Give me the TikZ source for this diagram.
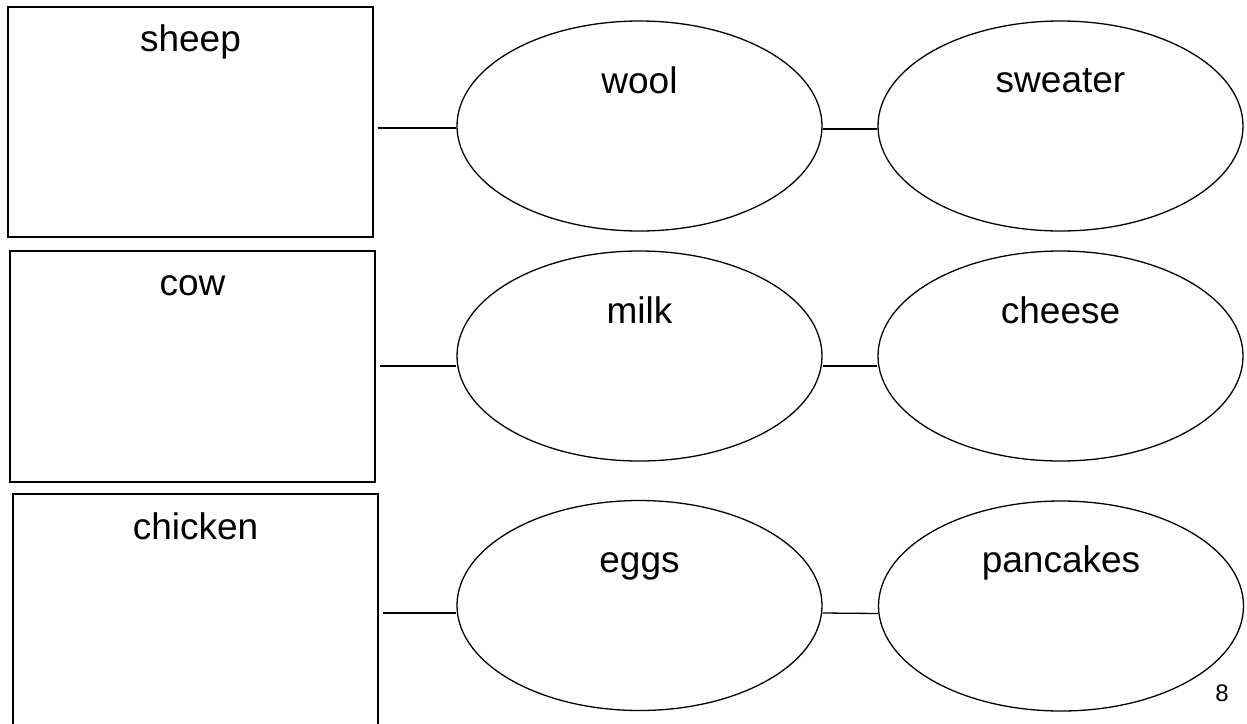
\documentclass[tikz,border=0pt]{standalone}
\usepackage{fontspec}
\setmainfont{Liberation Sans}
\usetikzlibrary{shapes.geometric}

\begin{document}
\begin{tikzpicture}[x=1pt,y=-1pt,
    animal/.style={draw,line width=1.8pt,minimum width=365pt,inner sep=0pt},
    product/.style={draw,ellipse,line width=1.3pt,minimum width=365pt,minimum height=210pt,inner sep=0pt},
    link/.style={line width=1.3pt},
    word/.style={anchor=base,inner sep=0pt,font=\fontsize{37}{44}\selectfont}]
                \useasboundingbox (0,0) rectangle (1247,723);
                \node[animal,minimum height=230pt] (sheep) at (190.5,122) {};
                \node[animal,minimum height=231pt] (cow) at (192.5,366.5) {};
                \node[animal,minimum height=256pt] (chicken) at (195.5,622) {};
                \node[word] at ([yshift=-45pt]sheep.north) {sheep};
                \node[word] at ([yshift=-45pt]cow.north) {cow};
                \node[word] at ([yshift=-46pt]chicken.north) {chicken};
                \node[product] (wool) at (639.5,126) {};
                \node[product] (sweater) at (1060.5,126) {};
                \node[product] (milk) at (639.5,356) {};
                \node[product] (cheese) at (1060.5,356) {};
                \node[product] (eggs) at (639.5,605.5) {};
                \node[product] (pancakes) at (1061,606) {};
                \node[word] at ([yshift=33pt]wool.center) {wool};
                \node[word] at ([yshift=34pt]sweater.center) {sweater};
                \node[word] at ([yshift=33pt]milk.center) {milk};
                \node[word] at ([yshift=33pt]cheese.center) {cheese};
                \node[word] at ([yshift=33pt]eggs.center) {eggs};
                \node[word] at ([yshift=34pt]pancakes.center) {pancakes};
                \draw[link] ([xshift=4pt,yshift=-2pt]sheep.east |- wool.west)--([yshift=-2pt]wool.west);
                \draw[link] ([xshift=4pt,yshift=-10pt]cow.east |- milk.west)--([yshift=-10pt]milk.west);
                \draw[link] ([xshift=4pt,yshift=-7.5pt]chicken.east |- eggs.west)--([yshift=-7.5pt]eggs.west);
                \draw[link] ([yshift=-3pt]wool.east)--([yshift=-3pt]sweater.west);
                \draw[link] ([yshift=-10pt]milk.east)--([yshift=-10pt]cheese.west);
                \draw[link] ([yshift=-7.5pt]eggs.east)--([yshift=-7.5pt]pancakes.west);
                \node[anchor=base,inner sep=0pt,font=\fontsize{24}{29}\selectfont] (page) at (1222,701) {8};
            \end{tikzpicture}
\end{document}
